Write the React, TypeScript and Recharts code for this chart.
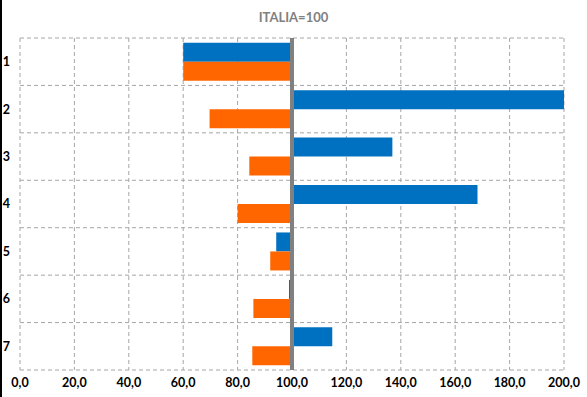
import React from 'react';
import { BarChart, Bar, XAxis, YAxis, CartesianGrid, ReferenceLine } from 'recharts';

const categories = ['1', '2', '3', '4', '5', '6', '7'];
const blueValues = [60.0, 200.0, 136.9, 168.2, 94.2, 98.9, 114.8];
const orangeValues = [60.0, 69.7, 84.3, 80.0, 92.0, 85.8, 85.4];
const xTicks = [0, 20, 40, 60, 80, 100, 120, 140, 160, 180, 200];
const BASE = 100;

const data = categories.map((c, i) => ({
  name: c,
  blue: [Math.min(BASE, blueValues[i]), Math.max(BASE, blueValues[i])],
  orange: [Math.min(BASE, orangeValues[i]), Math.max(BASE, orangeValues[i])],
}));

const FONT = 'Lato, "Open Sans", sans-serif';

// horizontal grid lines on the category band boundaries
const bandBoundaries = (props: any) => {
  const off = props && props.offset;
  const top = off ? off.top : 38;
  const h = off ? off.height : 332;
  const band = h / categories.length;
  return [...categories.map((_, i) => top + i * band), top + h];
};

export default function App() {
  return (
    <div style={{ position: 'absolute', left: 0, top: 0, width: 587, height: 397, background: '#fff', fontFamily: FONT }}>
      <div style={{ position: 'absolute', left: 0, top: 0, width: 2, height: 397, background: '#000' }} />
      <div
        style={{
          position: 'absolute', top: 9, left: 0, width: 587, textAlign: 'center',
          fontSize: 13, fontWeight: 700, color: '#808080',
        }}
      >
        ITALIA=100
      </div>
      <BarChart
        width={587}
        height={397}
        data={data}
        layout="vertical"
        margin={{ top: 38, right: 23, left: 0, bottom: 0 }}
        barCategoryGap="10%"
        barGap={0}
      >
        <CartesianGrid
          stroke="#a6a6a6"
          strokeDasharray="4 3"
          horizontalCoordinatesGenerator={bandBoundaries}
        />
        <XAxis
          type="number"
          domain={[0, 200]}
          ticks={xTicks}
          allowDataOverflow
          axisLine={false}
          tickLine={false}
          height={27}
          tickFormatter={(v: number) => v.toFixed(1).replace('.', ',')}
          tick={{ fontSize: 12.5, fontWeight: 700, fill: '#000', fontFamily: FONT }}
        />
        <YAxis
          type="category"
          dataKey="name"
          width={20}
          axisLine={false}
          tickLine={false}
          tickMargin={4}
          tick={{ fontSize: 12.5, fontWeight: 700, fill: '#000', fontFamily: FONT }}
        />
        <Bar dataKey="blue" fill="#0070c0" isAnimationActive={false} />
        <Bar dataKey="orange" fill="#ff6600" isAnimationActive={false} />
        <ReferenceLine x={BASE} stroke="#808080" strokeWidth={4} />
      </BarChart>
    </div>
  );
}
